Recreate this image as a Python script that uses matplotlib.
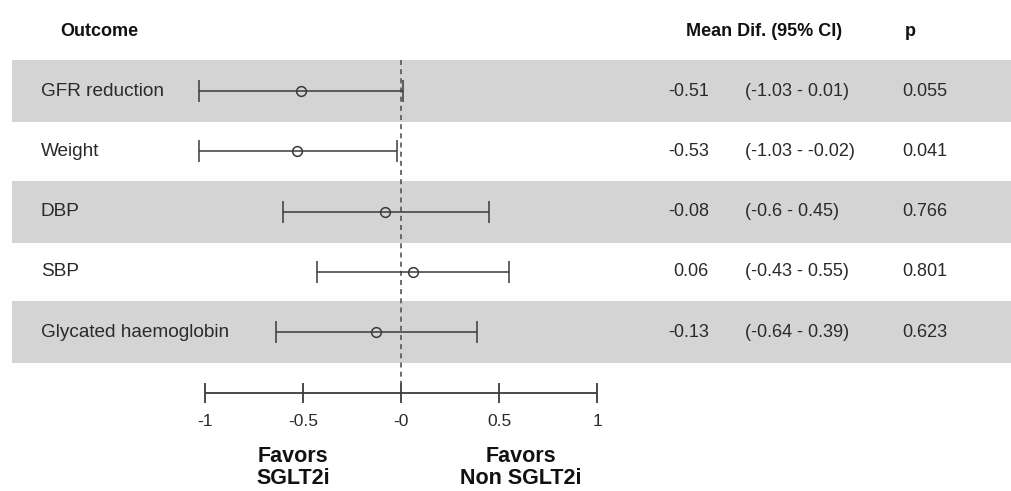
import matplotlib
matplotlib.use('Agg')
import matplotlib.pyplot as plt
from matplotlib.transforms import blended_transform_factory

# Données du forest plot
outcomes = ['GFR reduction', 'Weight', 'DBP', 'SBP', 'Glycated haemoglobin']
mean_dif = [-0.51, -0.53, -0.08, 0.06, -0.13]
ci_low = [-1.03, -1.03, -0.60, -0.43, -0.64]
ci_high = [0.01, -0.02, 0.45, 0.55, 0.39]
mean_txt = ['-0.51', '-0.53', '-0.08', '0.06', '-0.13']
ci_txt = ['(-1.03 - 0.01)', '(-1.03 - -0.02)', '(-0.6 - 0.45)', '(-0.43 - 0.55)', '(-0.64 - 0.39)']
p_txt = ['0.055', '0.041', '0.766', '0.801', '0.623']
ticks = [-1, -0.5, 0, 0.5, 1]
tick_labels = ['-1', '-0.5', '-0', '0.5', '1']

W, H = 1011, 491
plt.rcParams['font.family'] = ['Liberation Sans', 'DejaVu Sans']
fig = plt.figure(figsize=(W / 100, H / 100), dpi=100)
ax = fig.add_axes([0, 0, 1, 1])
ax.axis('off')

# échelle : 0 à x=401 px, 196 px par unité
ax.set_xlim(-401 / 196, (W - 401) / 196)
ax.set_ylim(H, 0)

line_col = '#3a3a3a'
text_col = '#2a2a2a'
band_col = '#d4d4d4'
row_y = [91 + 60.3 * i for i in range(len(outcomes))]
tr = blended_transform_factory(ax.transAxes, ax.transData)

# bandes grises une ligne sur deux
for i, y in enumerate(row_y):
    if i % 2 == 0:
        ax.axhspan(y - 31, y + 31, xmin=12 / W, xmax=1, color=band_col, lw=0, zorder=0)

# ligne de référence
ax.vlines(0, 60, 383, colors='#555555', linestyles=(0, (3, 2.5)), lw=1.2, zorder=1)

# intervalles de confiance
for i, y in enumerate(row_y):
    ax.errorbar(mean_dif[i], y,
                xerr=[[mean_dif[i] - ci_low[i]], [ci_high[i] - mean_dif[i]]],
                fmt='o', mfc='none', mec=line_col, ms=7, mew=1.1,
                ecolor=line_col, elinewidth=1.1, capsize=8, capthick=1.1, zorder=3)

# axe du bas
ax.hlines(393, ticks[0], ticks[-1], colors=line_col, lw=1.3)
ax.vlines(ticks, 383, 403, colors=line_col, lw=1.3)
for t, lab in zip(ticks, tick_labels):
    ax.text(t, 422, lab, ha='center', va='center', fontsize=12.5, color=text_col)

ax.text(-0.55, 457, 'Favors', ha='center', va='center', fontsize=15.5, fontweight='bold', color='#111111')
ax.text(-0.55, 479, 'SGLT2i', ha='center', va='center', fontsize=15.5, fontweight='bold', color='#111111')
ax.text(0.61, 457, 'Favors', ha='center', va='center', fontsize=15.5, fontweight='bold', color='#111111')
ax.text(0.61, 479, 'Non SGLT2i', ha='center', va='center', fontsize=15.5, fontweight='bold', color='#111111')

# en-têtes
ax.text(60 / W, 31, 'Outcome', transform=tr, ha='left', va='center', fontsize=13, fontweight='bold', color='#111111')
ax.text(686 / W, 31, 'Mean Dif. (95% CI)', transform=tr, ha='left', va='center', fontsize=13, fontweight='bold', color='#111111')
ax.text(905 / W, 31, 'p', transform=tr, ha='left', va='center', fontsize=13, fontweight='bold', color='#111111')

# colonnes de texte
for i, y in enumerate(row_y):
    ax.text(41 / W, y, outcomes[i], transform=tr, ha='left', va='center', fontsize=13.7, color=text_col)
    ax.text(709 / W, y, mean_txt[i], transform=tr, ha='right', va='center', fontsize=13, color=text_col)
    ax.text(745 / W, y, ci_txt[i], transform=tr, ha='left', va='center', fontsize=13, color=text_col)
    ax.text(902 / W, y, p_txt[i], transform=tr, ha='left', va='center', fontsize=13, color=text_col)

fig.savefig('out.png', dpi=100)
